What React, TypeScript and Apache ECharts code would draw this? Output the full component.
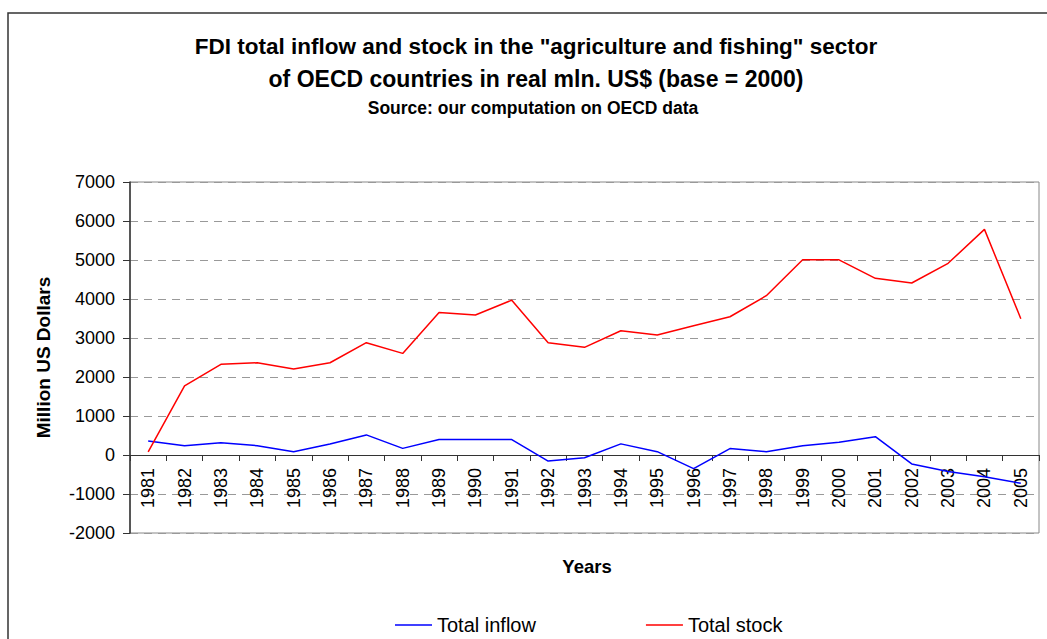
import React, { useEffect, useRef } from "react";
import * as echarts from "echarts";

const years = [
  "1981", "1982", "1983", "1984", "1985", "1986", "1987", "1988", "1989", "1990",
  "1991", "1992", "1993", "1994", "1995", "1996", "1997", "1998", "1999", "2000",
  "2001", "2002", "2003", "2004", "2005",
];

const totalInflow = [
  360, 240, 315, 240, 85, 280, 515, 170, 395, 395,
  395, -155, -70, 285, 85, -350, 165, 85, 240, 325,
  470, -230, -425, -555, -725,
];

const totalStock = [
  80, 1775, 2325, 2365, 2205, 2365, 2880, 2605, 3655, 3590,
  3970, 2880, 2760, 3185, 3075, 3315, 3545, 4085, 5005, 5005,
  4530, 4410, 4915, 5785, 3495,
];

const titleLines = [
  'FDI total inflow and stock in the "agriculture and fishing" sector',
  "of OECD countries in real mln. US$ (base = 2000)",
];
const subtitle = "Source: our computation on OECD data";
const yAxisTitle = "Million US Dollars";
const xAxisTitle = "Years";
const seriesNames = ["Total inflow", "Total stock"];

export default function App() {
  const ref = useRef<HTMLDivElement>(null);
  useEffect(() => {
    document.body.style.margin = "0";
    if (!ref.current) return;
    const chart = echarts.init(ref.current, undefined, { renderer: "svg" });
    const font = "Arial, 'Liberation Sans', sans-serif";
    const txt = (text: string, x: number, y: number, size: number) => ({
      type: "text",
      x,
      y,
      silent: true,
      style: {
        text,
        textAlign: "center",
        textVerticalAlign: "middle",
        fontFamily: font,
        fontSize: size,
        fontWeight: "bold",
        fill: "#000",
      },
    });
    chart.setOption({
      animation: false,
      backgroundColor: "#ffffff",
      textStyle: { fontFamily: font },
      graphic: [
        {
          type: "rect",
          shape: { x: 8, y: 13, width: 1200, height: 800 },
          style: { fill: "none", stroke: "#333333", lineWidth: 1.5 },
          silent: true,
        },
        txt(titleLines[0], 536, 46, 22.5),
        txt(titleLines[1], 536, 79, 23),
        txt(subtitle, 533, 108, 17.5),
        txt(xAxisTitle, 587, 566, 18.5),
      ],
      legend: {
        data: seriesNames,
        left: 395,
        top: 615,
        icon: "rect",
        itemWidth: 37,
        itemHeight: 1.5,
        itemGap: 110,
        padding: 0,
        textStyle: { fontFamily: font, fontSize: 20, color: "#000", padding: [0, 0, 0, 0] },
      },
      grid: {
        left: 130,
        right: 8,
        top: 182,
        bottom: 106,
        show: true,
        borderColor: "#888888",
        borderWidth: 1,
      },
      xAxis: {
        type: "category",
        data: years,
        boundaryGap: true,
        axisLine: { onZero: true, lineStyle: { color: "#333333", width: 1 } },
        axisTick: { show: true, length: 6, inside: false, lineStyle: { color: "#333333" } },
        axisLabel: {
          rotate: 90,
          interval: 0,
          fontFamily: font,
          fontSize: 18,
          color: "#000",
          margin: -65,
        },
        splitLine: { show: false },
      },
      yAxis: {
        type: "value",
        min: -2000,
        max: 7000,
        interval: 1000,
        name: yAxisTitle,
        nameLocation: "middle",
        nameGap: 77,
        nameTextStyle: { fontFamily: font, fontSize: 19, fontWeight: "bold", color: "#000" },
        axisLine: { show: true, lineStyle: { color: "#333333", width: 1.5 } },
        axisTick: { show: true, length: 7, lineStyle: { color: "#333333" } },
        axisLabel: {
          fontFamily: font,
          fontSize: 18,
          color: "#000",
          margin: 15,
          formatter: (v: number) => String(v),
        },
        splitLine: { show: true, lineStyle: { color: "#999999", type: [8, 6], width: 1 } },
      },
      series: [
        {
          name: seriesNames[0],
          type: "line",
          data: totalInflow,
          symbol: "none",
          lineStyle: { color: "#0000ff", width: 1.5 },
          itemStyle: { color: "#0000ff" },
          z: 3,
        },
        {
          name: seriesNames[1],
          type: "line",
          data: totalStock,
          symbol: "none",
          lineStyle: { color: "#ff0000", width: 1.5 },
          itemStyle: { color: "#ff0000" },
          z: 4,
        },
      ],
    });
    return () => chart.dispose();
  }, []);
  return <div ref={ref} style={{ width: 1047, height: 639 }} />;
}
